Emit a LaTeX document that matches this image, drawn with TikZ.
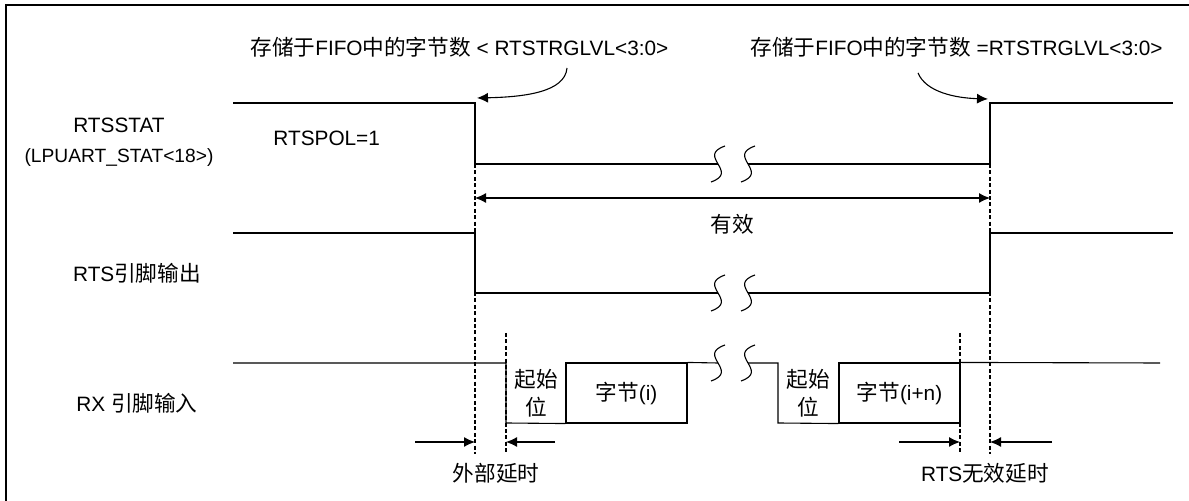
\documentclass[tikz,border=0pt]{standalone}
\usepackage{fontspec}
\setmainfont{Liberation Sans}
\newfontfamily\cjk[Scale=1.04]{Noto Sans CJK SC}
\newcommand{\zh}[1]{{\cjk #1}}
\usetikzlibrary{arrows.meta,calc,positioning}

\begin{document}
\begin{tikzpicture}[x=0.5pt, y=-0.5pt,
      sig/.style={line width=0.55pt},
      guide/.style={line width=0.55pt, dash pattern=on 2pt off 1.2pt},
      dimarrow/.style={line width=0.55pt, -{Latex[length=5.5pt,width=5pt]}},
      lbl/.style={font=\fontsize{10.4}{14}\selectfont, inner sep=0pt, align=center},
      bytebox/.style={draw, line width=0.55pt, minimum width=60.5pt, minimum height=30pt, inner sep=0pt, font=\fontsize{10.4}{14}\selectfont}
    ]
      \useasboundingbox (0,0) rectangle (1189,501);
      % frame
      \draw[line width=1pt] (6,501) -- (6,5) -- (1189,5);

      % signal names
      \node[lbl] (statname) at (119,125) {RTSSTAT};
      \node[lbl, font=\fontsize{9.6}{12}\selectfont] (statreg) at (119,158) {(LPUART\_STAT<18>)};
      \node[lbl] (rtsname) at (137,273) {RTS\zh{引脚输出}};
      \node[lbl] (rxname) at (137,403) {RX \zh{引脚输入}};
      \node[lbl, anchor=west] (polname) at (273,138) {RTSPOL=1};

      % trigger conditions
      \node[lbl, anchor=west] (condlt) at (250,47) {\zh{存储于}FIFO\zh{中的字节数} < RTSTRGLVL<3:0>};
      \node[lbl, anchor=west] (condeq) at (750,47) {\zh{存储于}FIFO\zh{中的字节数} =RTSTRGLVL<3:0>};
      \coordinate (ltfrom) at (567,68);
      \coordinate (ltto) at (477,98);
      \coordinate (eqfrom) at (918,73);
      \coordinate (eqto) at (988,99);
      \draw[dimarrow] (ltfrom) .. controls (565,92) and (525,97) .. (ltto);
      \draw[dimarrow] (eqfrom) .. controls (926,92) and (955,98) .. (eqto);

      % RTSSTAT and RTS pin
      \draw[sig] (233,103) -- (475,103) -- (475,164) -- (718,164);
      \draw[sig] (748,164) -- (990,164) -- (990,103) -- (1173,103);
      \draw[sig] (233,233) -- (475,233) -- (475,293) -- (718,293);
      \draw[sig] (748,293) -- (990,293) -- (990,233) -- (1173,233);

      % valid window
      \coordinate (validl) at (475,198);
      \coordinate (validr) at (990,198);
      \draw[dimarrow, {Latex[length=5.5pt,width=5pt]}-{Latex[length=5.5pt,width=5pt]}] (validl) -- (validr);
      \node[lbl] (validtxt) at (732,224) {\zh{有效}};

      % RX pin
      \node[bytebox] (bytei) at (626.5,393) {\zh{字节}(i)};
      \node[bytebox] (byten) at (899.5,393) {\zh{字节}(i+n)};
      \node[lbl] (starti) at (536,393) {\zh{起始}\\\zh{位}};
      \node[lbl] (startn) at (808.5,393) {\zh{起始}\\\zh{位}};
      \draw[sig] (233,363) -- (506,363) -- (506,423) -- (bytei.south west);
      \draw[sig] (bytei.north east) -- (718,363);
      \draw[sig] (748,363) -- (778,363) -- (778,423) -- (byten.south west);
      \draw[sig] (byten.north east) -- (1160,363);

      % breaks
      \foreach \yb in {164,293,363}
        \foreach \xb in {718,748}
          \draw[sig] (\xb+7,\yb-18) .. controls (\xb-22,\yb-8) and (\xb+22,\yb+8) .. (\xb-7,\yb+18);

      % delay guides
      \draw[guide] (475,164) -- (475,454);
      \draw[guide] (990,164) -- (990,454);
      \draw[guide] (506,333) -- (506,454);
      \draw[guide] (960,333) -- (960,454);
      \coordinate (extin) at (415,442);
      \coordinate (extout) at (555,442);
      \coordinate (invin) at (899,442);
      \coordinate (invout) at (1052,442);
      \draw[dimarrow] (extin) -- (475,442);
      \draw[dimarrow] (extout) -- (506,442);
      \draw[dimarrow] (invin) -- (960,442);
      \draw[dimarrow] (invout) -- (990,442);
      \node[lbl] (exttxt) at (496,473) {\zh{外部延时}};
      \node[lbl] (invtxt) at (985,473) {RTS\zh{无效延时}};
    \end{tikzpicture}
\end{document}
